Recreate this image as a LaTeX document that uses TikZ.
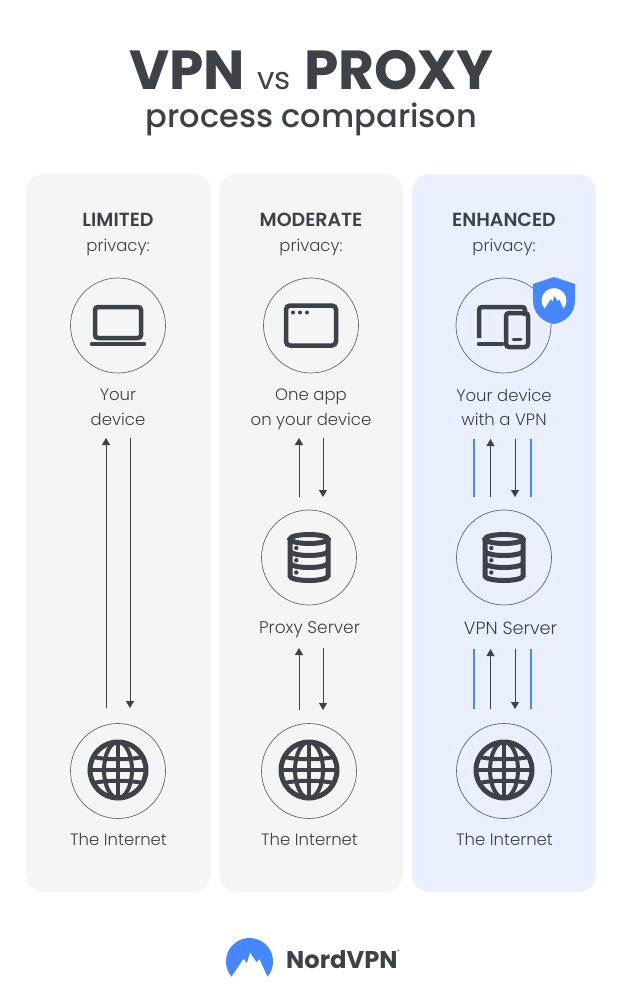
\documentclass[tikz,border=0pt]{standalone}
\usepackage{fontspec}
\setmainfont{Poppins}
\newfontfamily\lightfont{Poppins Light}
\newfontfamily\mediumfont{Poppins Medium}
\usetikzlibrary{arrows.meta}
\definecolor{ink}{HTML}{3E4147}
\definecolor{nordblue}{HTML}{4687FF}
\definecolor{greypanel}{HTML}{F5F5F5}
\definecolor{bluepanel}{HTML}{EAF0FF}
\newcommand{\headword}[1]{{\fontsize{19}{24.5}\selectfont\bfseries #1}}
\tikzset{
  panel/.style = {rounded corners = 18pt, inner sep = 0pt},
  ring/.style = {circle, draw = ink!80, line width = .7pt, minimum size = 95pt, inner sep = 0pt},
  caption/.style = {font = \lightfont\fontsize{16.5}{24.5}\selectfont, text = ink, align = center, inner sep = 0pt},
  titleword/.style = {text = ink, anchor = base, inner sep = 0pt},
  flow/.style = {draw = ink, line width = .8pt, -{Triangle[length = 7pt, width = 8pt]}},
  tunnel/.style = {draw = nordblue, line width = 2pt},
  icon/.style = {draw = ink, line width = 4.5pt},
  pics/globe/.style = {code = {
    \draw[icon, line width = 5pt] (0,0) circle (28);
    \draw[icon, line width = 4pt] (0,0) ellipse (14 and 28);
    \draw[icon, line width = 4pt] (0,-28) -- (0,28);
    \draw[icon, line width = 4pt] (-28,0) -- (28,0);
    \draw[icon, line width = 4pt] (-25,-13) .. controls (-10,-10) and (10,-10) .. (25,-13);
    \draw[icon, line width = 4pt] (-25,13) .. controls (-10,10) and (10,10) .. (25,13);
  }},
  pics/database/.style = {code = {
    \draw[icon, line width = 5pt] (0,-18.5) ellipse (19 and 4.5);
    \draw[icon, line width = 5pt] (-19,-18.5) -- (-19,18.5) arc[start angle = 180, end angle = 360, x radius = 19, y radius = -4.5] -- (19,-18.5);
    \draw[icon, line width = 5pt] (-19,-6.5) arc[start angle = 180, end angle = 360, x radius = 19, y radius = -4.5];
    \draw[icon, line width = 5pt] (-19,5.5) arc[start angle = 180, end angle = 360, x radius = 19, y radius = -4.5];
    \fill[ink] (-12.7,-9.5) circle (2.2) (-12.7,2.8) circle (2.2) (-12.7,15) circle (2.2);
  }},
  pics/nordmark/.style = {code = {
    \fill[#1] (-19,16) arc[start angle = 140, end angle = 400, radius = 24.8]
      -- (10.5,-2.8) -- (7.5,0.7) -- (0.5,-9.5) -- (-2.8,1.8) -- (-6.2,-3.2) -- cycle;
  }}
}

\begin{document}
\begin{tikzpicture}[x = 1pt, y = -1pt]
    \useasboundingbox[fill = white] (0,0) rectangle (634,990);
    % Panels
    \fill[panel, greypanel] (26,174) rectangle (211,892);
    \fill[panel, greypanel] (219,174) rectangle (403,892);
    \fill[panel, bluepanel] (412,174) rectangle (596,892);
    % Title
    \node[titleword] (vpn) at (187,89) {\fontsize{55}{60}\selectfont\bfseries VPN};
    \node[titleword] (versus) at (274,89) {\fontsize{31}{34}\selectfont vs};
    \node[titleword] (proxyword) at (399,89) {\fontsize{55}{60}\selectfont\bfseries PROXY};
    \node[titleword] (subtitle) at (311.5,127.5) {\fontsize{32}{36}\mediumfont\selectfont process comparison};
    % Headings
    \node[caption] (limited) at (118,234.5) {\headword{LIMITED}\\privacy:};
    \node[caption] (moderate) at (311,234.5) {\headword{MODERATE}\\privacy:};
    \node[caption] (enhanced) at (504,234.5) {\headword{ENHANCED}\\privacy:};
    % Rings
    \node[ring] (device) at (118,325.5) {};
    \node[ring] (app) at (311,325.5) {};
    \node[ring] (vpndevice) at (503.5,325.5) {};
    \node[ring] (proxy) at (309,557.5) {};
    \node[ring] (vpnserver) at (504,557.5) {};
    \node[ring] (webA) at (118,771) {};
    \node[ring] (webB) at (309,771) {};
    \node[ring] (webC) at (504,771) {};
    % Captions
    \node[caption] (devicetext) at (118,407.5) {Your\\device};
    \node[caption] (apptext) at (311,409.5) {One app\\on your device};
    \node[caption] (vpndevicetext) at (504,407.5) {Your device\\with a VPN};
    \node[caption, font = \lightfont\fontsize{17}{24.5}\selectfont] (proxytext) at (309.5,630) {Proxy Server};
    \node[caption, font = \lightfont\fontsize{17.7}{24.5}\selectfont] (vpnservertext) at (510.5,628) {VPN Server};
    \node[caption] (webAtext) at (118.5,839) {The Internet};
    \node[caption] (webBtext) at (309.5,839) {The Internet};
    \node[caption] (webCtext) at (504.5,839) {The Internet};
    % Laptop
    \draw[icon, rounded corners = 3pt] (95,338) -- (95,307) -- (141,307) -- (141,338) -- cycle;
    \draw[icon, line cap = round] (92,344) -- (144,344);
    % App window
    \draw[icon, rounded corners = 4pt] (286,305.5) rectangle (336,345.5);
    \draw[ink, line width = 1.5pt] (286,307.5) -- (336,307.5);
    \fill[ink] (293,312.5) circle (2) (300,312.5) circle (2) (307,312.5) circle (2);
    % Devices and shield
    \draw[icon, rounded corners = 3pt] (479,338) -- (479,307) -- (525,307) -- (525,316);
    \draw[icon, line cap = round] (479,344) -- (502,344);
    \draw[icon, rounded corners = 3pt] (506,313) rectangle (528,347);
    \draw[ink, line width = 3pt, line cap = round] (513,339.5) -- (521,339.5);
    \fill[nordblue] (554,277) -- (575,284) -- (575,300) .. controls (575,314) and (565,322) .. (554,324)
      .. controls (543,322) and (533,314) .. (533,300) -- (533,284) -- cycle;
    \pic[scale = .5] at (554,300.5) {nordmark = white};
    % Server and globe icons
    \pic at (309,557.5) {database};
    \pic at (504,557.5) {database};
    \pic at (118,770) {globe};
    \pic at (309,770) {globe};
    \pic at (504,770) {globe};
    % Arrows
    \coordinate (aup) at (106,438);
    \coordinate (alow) at (106,708);
    \coordinate (bup) at (130,438);
    \coordinate (blow) at (130,708);
    \draw[flow] (alow) -- (aup);
    \draw[flow] (bup) -- (blow);
    \coordinate (cup) at (299,438);
    \coordinate (clow) at (299,497);
    \coordinate (dup) at (323,438);
    \coordinate (dlow) at (323,497);
    \draw[flow] (clow) -- (cup);
    \draw[flow] (dup) -- (dlow);
    \coordinate (eup) at (299,648);
    \coordinate (elow) at (299,710);
    \coordinate (fup) at (323,648);
    \coordinate (flow) at (323,710);
    \draw[flow] (elow) -- (eup);
    \draw[flow] (fup) -- (flow);
    \coordinate (gup) at (490.5,439);
    \coordinate (glow) at (490.5,497);
    \coordinate (hup) at (515,439);
    \coordinate (hlow) at (515,497);
    \draw[flow] (glow) -- (gup);
    \draw[flow] (hup) -- (hlow);
    \coordinate (iup) at (490.5,649);
    \coordinate (ilow) at (490.5,709);
    \coordinate (jup) at (515,649);
    \coordinate (jlow) at (515,709);
    \draw[flow] (ilow) -- (iup);
    \draw[flow] (jup) -- (jlow);
    % Tunnel walls
    \coordinate (kup) at (474,439);
    \coordinate (klow) at (474,497);
    \coordinate (lup) at (531,439);
    \coordinate (llow) at (531,497);
    \coordinate (mup) at (474,649);
    \coordinate (mlow) at (474,709);
    \coordinate (nup) at (531,649);
    \coordinate (nlow) at (531,709);
    \draw[tunnel] (kup) -- (klow);
    \draw[tunnel] (lup) -- (llow);
    \draw[tunnel] (mup) -- (mlow);
    \draw[tunnel] (nup) -- (nlow);
    % Logo
    \pic[scale = .95] at (249.5,961.5) {nordmark = nordblue};
    \node[text = ink, anchor = west, inner sep = 0pt] (nord) at (286,960) {\fontsize{24.2}{30}\selectfont\bfseries NordVPN};
    \node[text = ink, anchor = west, inner sep = 0pt] (reg) at (397,952) {\fontsize{5}{6}\selectfont\textregistered};
\end{tikzpicture}
\end{document}
